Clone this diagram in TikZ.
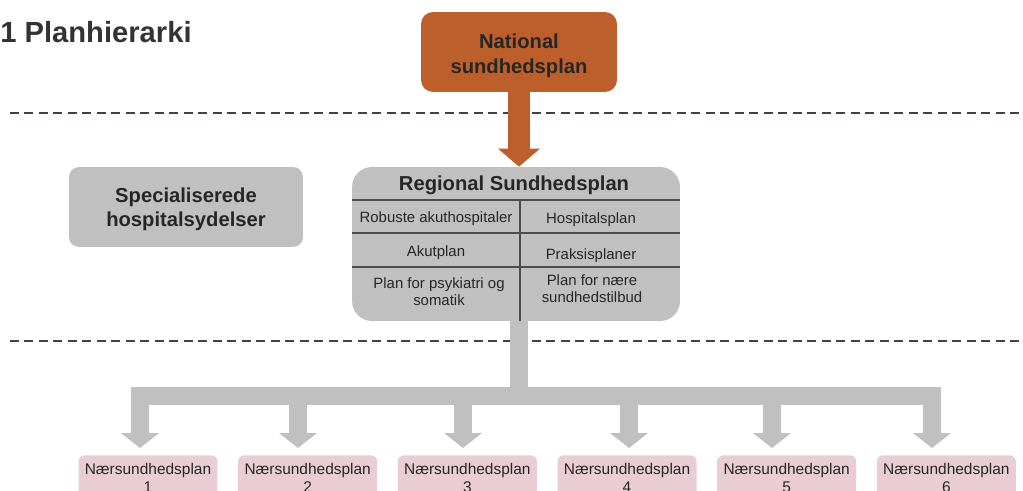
\documentclass[tikz,border=0pt]{standalone}
\usepackage{fontspec}
\setmainfont{Liberation Sans}
\usetikzlibrary{positioning,arrows.meta}

\definecolor{natorange}{HTML}{BD5F2B}
\definecolor{boxgray}{HTML}{C0C0C0}
\definecolor{planpink}{HTML}{E9CDD3}
\definecolor{dashgray}{HTML}{3B4250}
\definecolor{textdark}{HTML}{262626}

\begin{document}
\begin{tikzpicture}[
    x=0.02cm, y=-0.02cm,
    text=textdark,
    font=\fontsize{8.5}{9.6}\selectfont,
    node distance=0.4cm,
    levelline/.style={dashgray,line width=1.1pt,dash pattern=on 0.18cm off 0.11cm},
    national/.style={fill=natorange,rounded corners=0.24cm,minimum width=3.92cm,minimum height=1.6cm,align=center,font=\bfseries\fontsize{11.5}{14.3}\selectfont},
    headbox/.style={fill=boxgray,rounded corners=0.2cm,minimum width=4.68cm,minimum height=1.6cm,align=center,font=\bfseries\fontsize{11.5}{13.6}\selectfont},
    regional/.style={fill=boxgray,rounded corners=0.4cm,minimum width=6.56cm,minimum height=3.08cm},
    cell/.style={align=center,inner sep=0pt},
    cellline/.style={draw=black!70,line width=0.6pt},
    plan/.style={fill=planpink,rounded corners=0.12cm,minimum width=2.78cm,minimum height=0.9cm,align=center,inner sep=0pt,font=\fontsize{8.8}{10.2}\selectfont},
    natarrow/.style={natorange,line width=0.44cm,-{Triangle[width=0.84cm,length=0.36cm,line width=0pt]}},
    tree/.style={boxgray,line width=0.36cm},
    drop/.style={boxgray,line width=0.36cm,shorten >=0.14cm,-{Triangle[width=0.76cm,length=0.3cm,line width=0pt]}}
]
    \useasboundingbox (0,0) rectangle (1023,490);
    \clip (0,0) rectangle (1023,490);

    % Title
    \node[anchor=west,inner sep=0pt,text=black!80,font=\bfseries\fontsize{16.6}{18}\selectfont] (title) at (0,32) {1 Planhierarki};

    % Levels
    \draw[levelline] (10,113) -- (1023,113);
    \draw[levelline] (10,341) -- (1023,341);

    % National level
    \node[national] (N) at (519,52) {\rule{0pt}{13pt}National\\sundhedsplan};

    % Regional level
    \node[headbox] (S) at (186,207) {\rule{0pt}{11.2pt}Specialiserede\\hospitalsydelser};
    \node[regional] (R) at (516,244) {};
    \node[cell,font=\bfseries\fontsize{11.5}{13.5}\selectfont] (RT) at (514,185.5) {Regional Sundhedsplan};
    \draw[cellline] (352,200) -- (680,200);
    \draw[cellline] (352,233) -- (680,233);
    \draw[cellline] (352,267) -- (680,267);
    \draw[cellline] (520,200) -- (520,321);
    \node[cell] (c11) at (436,219) {Robuste akuthospitaler};
    \node[cell] (c12) at (591,219.5) {Hospitalsplan};
    \node[cell] (c21) at (436,253) {Akutplan};
    \node[cell] (c22) at (591,255.5) {Praksisplaner};
    \node[cell] (c31) at (439,291.5) {Plan for psykiatri og\\somatik};
    \node[cell] (c32) at (592,289) {Plan for nære\\sundhedstilbud};

    \draw[natarrow] (N.south) -- (N.south |- R.north);

    % Local level
    \node[plan,anchor=north] (n1) at (148,455) {Nærsundhedsplan\\1};
    \node[plan] (n2) [right=of n1] {Nærsundhedsplan\\2};
    \node[plan] (n3) [right=of n2] {Nærsundhedsplan\\3};
    \node[plan] (n4) [right=of n3] {Nærsundhedsplan\\4};
    \node[plan] (n5) [right=of n4] {Nærsundhedsplan\\5};
    \node[plan] (n6) [right=of n5] {Nærsundhedsplan\\6};

    % Distribution bar
    \coordinate (stem) at (519,396);
    \coordinate (d1) at (140,396);
    \coordinate (d2) at (298,396);
    \coordinate (d3) at (463,396);
    \coordinate (d4) at (629,396);
    \coordinate (d5) at (772,396);
    \coordinate (d6) at (932,396);
    \draw[tree] (R.south -| stem) -- (stem);
    \draw[tree,line cap=rect] (d1) -- (d6);
    \draw[drop] (d1) -- (d1 |- n1.north);
    \draw[drop] (d2) -- (d2 |- n2.north);
    \draw[drop] (d3) -- (d3 |- n3.north);
    \draw[drop] (d4) -- (d4 |- n4.north);
    \draw[drop] (d5) -- (d5 |- n5.north);
    \draw[drop] (d6) -- (d6 |- n6.north);
\end{tikzpicture}
\end{document}
